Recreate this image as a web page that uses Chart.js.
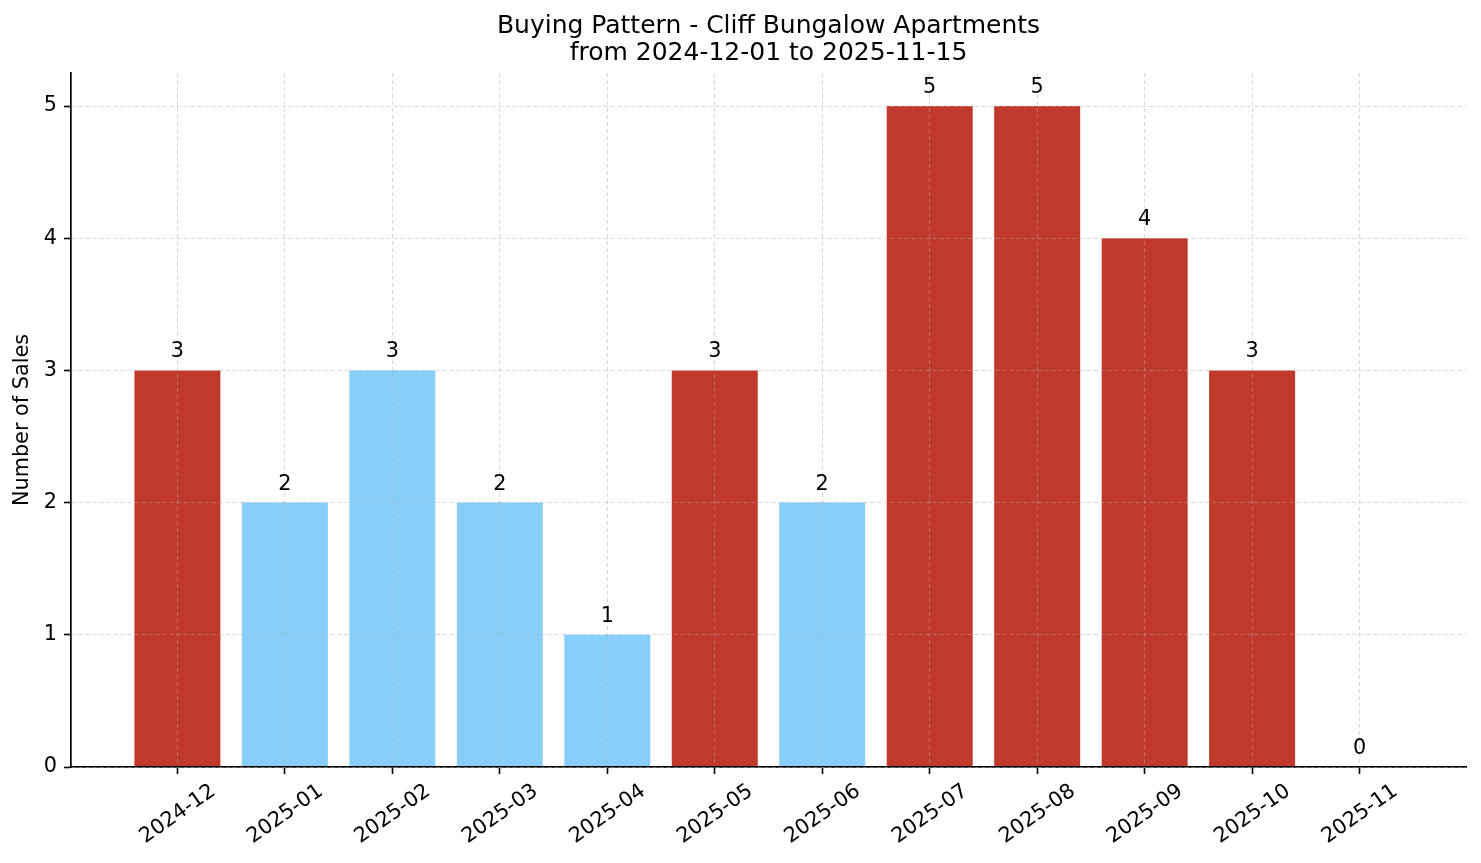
<!DOCTYPE html>
<html>
<head>
<meta charset="utf-8">
<script src="https://cdn.jsdelivr.net/npm/chart.js@4/dist/chart.umd.min.js"></script>
<style>
  body { margin: 0; background: #fff; }
</style>
</head>
<body>
<canvas id="salesChart" width="1481" height="863"></canvas>
<script>
const months = ["2024-12", "2025-01", "2025-02", "2025-03", "2025-04", "2025-05",
                "2025-06", "2025-07", "2025-08", "2025-09", "2025-10", "2025-11"]
const sales = [3, 2, 3, 2, 1, 3, 2, 5, 5, 4, 3, 0]
const highlighted = [true, false, false, false, false, true, false, true, true, true, true, false]
const yTicks = [0, 1, 2, 3, 4, 5]
const titleLines = ["Buying Pattern - Cliff Bungalow Apartments", "from 2024-12-01 to 2025-11-15"]

const RED = "#c0392b"
const BLUE = "#87cefa"
const GRID = "rgba(176,176,176,0.5)"
const FONT = "'DejaVu Sans', sans-serif"

Chart.defaults.font.family = FONT
Chart.defaults.color = "#000"

// value labels over each bar + title centred over the plot area
const annotate = {
    id: "annotate",
    afterDraw(chart){
        const ctx = chart.ctx
        const area = chart.chartArea
        const meta = chart.getDatasetMeta(0)
        ctx.save()
        ctx.fillStyle = "#000"
        ctx.textAlign = "center"

        ctx.font = "20.8px " + FONT
        ctx.textBaseline = "alphabetic"
        meta.data.forEach((bar, i) => {
            ctx.fillText(String(sales[i]), bar.x, bar.y - 13)
        })

        ctx.font = "25px " + FONT
        ctx.textBaseline = "middle"
        const cx = (area.left + area.right) / 2
        titleLines.forEach((line, i) => {
            ctx.fillText(line, cx, 26 + i * 27.5)
        })
        ctx.restore()
    }
}

const gridStyle = {
    color: GRID,
    lineWidth: 1,
    z: 1,
    offset: false,
    tickLength: 7,
    tickColor: "#000",
    tickWidth: 1.6
}

new Chart(document.getElementById("salesChart"), {
    type: "bar",
    data: {
        datasets: [{
            data: sales.map((v, i) => ({ x: i, y: v })),
            backgroundColor: highlighted.map(h => h ? RED : BLUE),
            borderWidth: 0,
            barPercentage: 0.8,
            categoryPercentage: 1.0
        }]
    },
    options: {
        responsive: false,
        devicePixelRatio: 1,
        animation: false,
        layout: { padding: { left: 0, right: 15, top: 73, bottom: 0 } },
        plugins: {
            legend: { display: false },
            tooltip: { enabled: false },
            title: { display: false }
        },
        scales: {
            x: {
                type: "linear",
                offset: false,
                min: -0.99,
                max: 11.99,
                ticks: {
                    stepSize: 1,
                    includeBounds: false,
                    autoSkip: false,
                    minRotation: 35,
                    maxRotation: 35,
                    labelOffset: 36,
                    padding: 5,
                    font: { size: 20.8 },
                    callback: v => months[v] ?? ""
                },
                grid: gridStyle,
                border: { display: true, color: "#000", width: 1.7, dash: [4, 3], z: 1 },
                afterFit(scale){ scale.height = 96 }
            },
            y: {
                min: 0,
                max: 5.25,
                afterBuildTicks(scale){ scale.ticks = yTicks.map(v => ({ value: v })) },
                ticks: {
                    padding: 7,
                    font: { size: 20.8 }
                },
                grid: gridStyle,
                border: { display: true, color: "#000", width: 1.7, dash: [4, 3], z: 1 },
                title: {
                    display: true,
                    text: "Number of Sales",
                    font: { size: 20.8 },
                    color: "#000",
                    padding: { top: 10, bottom: 0 }
                },
                afterFit(scale){ scale.width = 71 }
            }
        }
    },
    plugins: [annotate]
})
</script>
</body>
</html>
